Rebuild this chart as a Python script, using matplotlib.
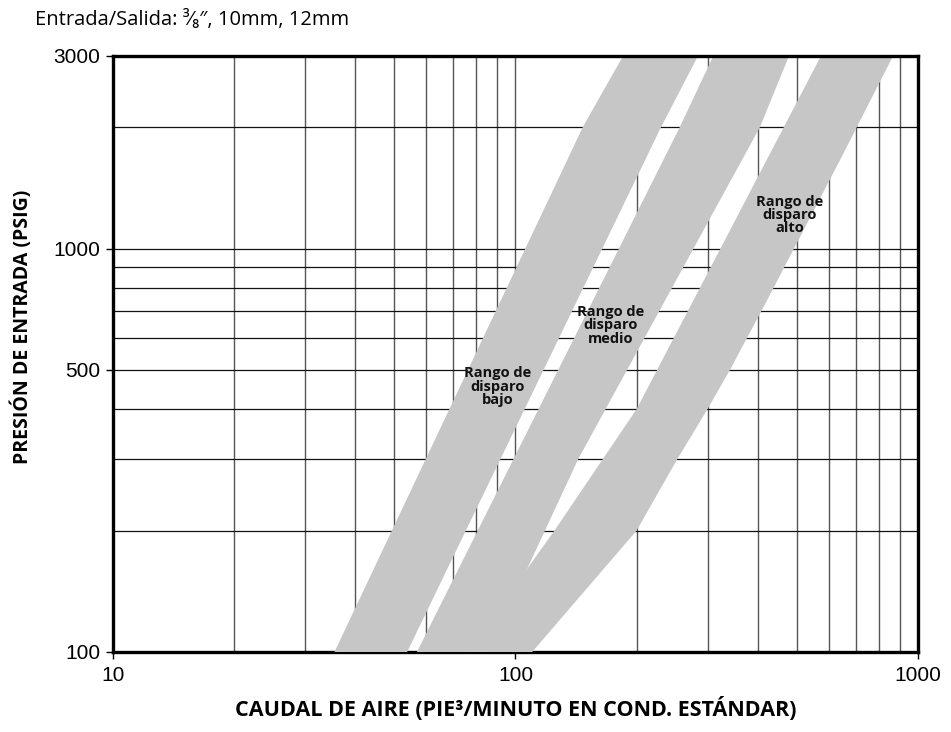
import matplotlib
matplotlib.use("Agg")
import matplotlib.pyplot as plt

# === Data (log-log, flow vs inlet pressure) ===
bajo_left_x = [35.5, 147, 185]
bajo_left_y = [100, 2000, 3000]
bajo_right_x = [53.8, 230, 284]
bajo_right_y = [100, 2000, 3000]

medio_left_x = [56.9, 256, 310]
medio_left_y = [100, 2000, 3000]
medio_right_x = [85, 107, 143, 405, 478]
medio_right_y = [100, 161, 300, 2000, 3000]

alto_left_x = [75, 107, 125, 200, 574]
alto_left_y = [100, 161, 200, 400, 3000]
alto_right_x = [110, 200, 252, 300, 341, 422, 640, 867]
alto_right_y = [100, 200, 300, 400, 500, 745, 1656, 3000]

band_labels = ["Rango de\ndisparo\nbajo", "Rango de\ndisparo\nmedio", "Rango de\ndisparo\nalto"]
label_x = [90.5, 172, 481]
label_y = [454, 646, 1211]

x_ticks = [10, 100, 1000]
y_ticks = [100, 500, 1000, 3000]
x_grid = [20, 30, 40, 50, 60, 70, 80, 90, 200, 300, 400, 500, 600, 700, 800, 900]
y_grid = [200, 300, 400, 600, 700, 800, 900, 2000]

band_color = "#c6c6c6"

fig = plt.figure(figsize=(9.51, 7.32), dpi=100)
ax = fig.add_axes([0.1188, 0.1093, 0.8465, 0.8142])
ax.set_xscale("log")
ax.set_yscale("log")
ax.set_xlim(10, 1000)
ax.set_ylim(100, 3000)

# gridlines (drawn under the bands)
for gx in x_grid + x_ticks[1:2]:
    ax.axvline(gx, color="#555555", lw=1.0, zorder=1)
for gy in y_grid + y_ticks[1:3]:
    ax.axhline(gy, color="#111111", lw=0.9, zorder=1)

# === bands ===
bands = [
    (bajo_left_x, bajo_left_y, bajo_right_x, bajo_right_y),
    (medio_left_x, medio_left_y, medio_right_x, medio_right_y),
    (alto_left_x, alto_left_y, alto_right_x, alto_right_y),
]
for lx, ly, rx, ry in bands:
    px = lx + rx[::-1]
    py = ly + ry[::-1]
    ax.fill(px, py, color=band_color, lw=0, zorder=3)

for txt, tx, ty in zip(band_labels, label_x, label_y):
    ax.text(tx, ty, txt, ha="center", va="center", fontsize=10.5,
            fontweight="bold", family="Open Sans", linespacing=0.95,
            color="#111111", zorder=4)

# ticks and labels
ax.set_xticks(x_ticks)
ax.set_xticklabels([str(v) for v in x_ticks])
ax.set_yticks(y_ticks)
ax.set_yticklabels([str(v) for v in y_ticks])
ax.minorticks_off()
ax.tick_params(axis="both", which="major", direction="out", length=5,
               width=1, labelsize=15)
ax.tick_params(axis="x", pad=5)
ax.tick_params(axis="y", pad=4)
for lab in ax.get_xticklabels() + ax.get_yticklabels():
    lab.set_family("Liberation Sans")

for side in ["left", "right", "top", "bottom"]:
    ax.spines[side].set_linewidth(2.4)
    ax.spines[side].set_color("black")
ax.spines["bottom"].set_zorder(2)
ax.spines["top"].set_zorder(5)

ax.set_xlabel("CAUDAL DE AIRE (PIE³/MINUTO EN COND. ESTÁNDAR)", fontsize=15.5,
              fontweight="bold", family="Open Sans")
ax.set_ylabel("PRESIÓN DE ENTRADA (PSIG)", fontsize=14, fontweight="bold",
              family="Open Sans")
ax.xaxis.set_label_coords(0.5, -0.075, transform=ax.transAxes)
ax.yaxis.set_label_coords(-0.099, 0.545, transform=ax.transAxes)

fig.text(0.037, 0.973, "Entrada/Salida: ³⁄₈″, 10mm, 12mm", fontsize=14.5,
         family=["Open Sans", "DejaVu Sans"], va="center", ha="left")

fig.savefig("out.png", dpi=100)
